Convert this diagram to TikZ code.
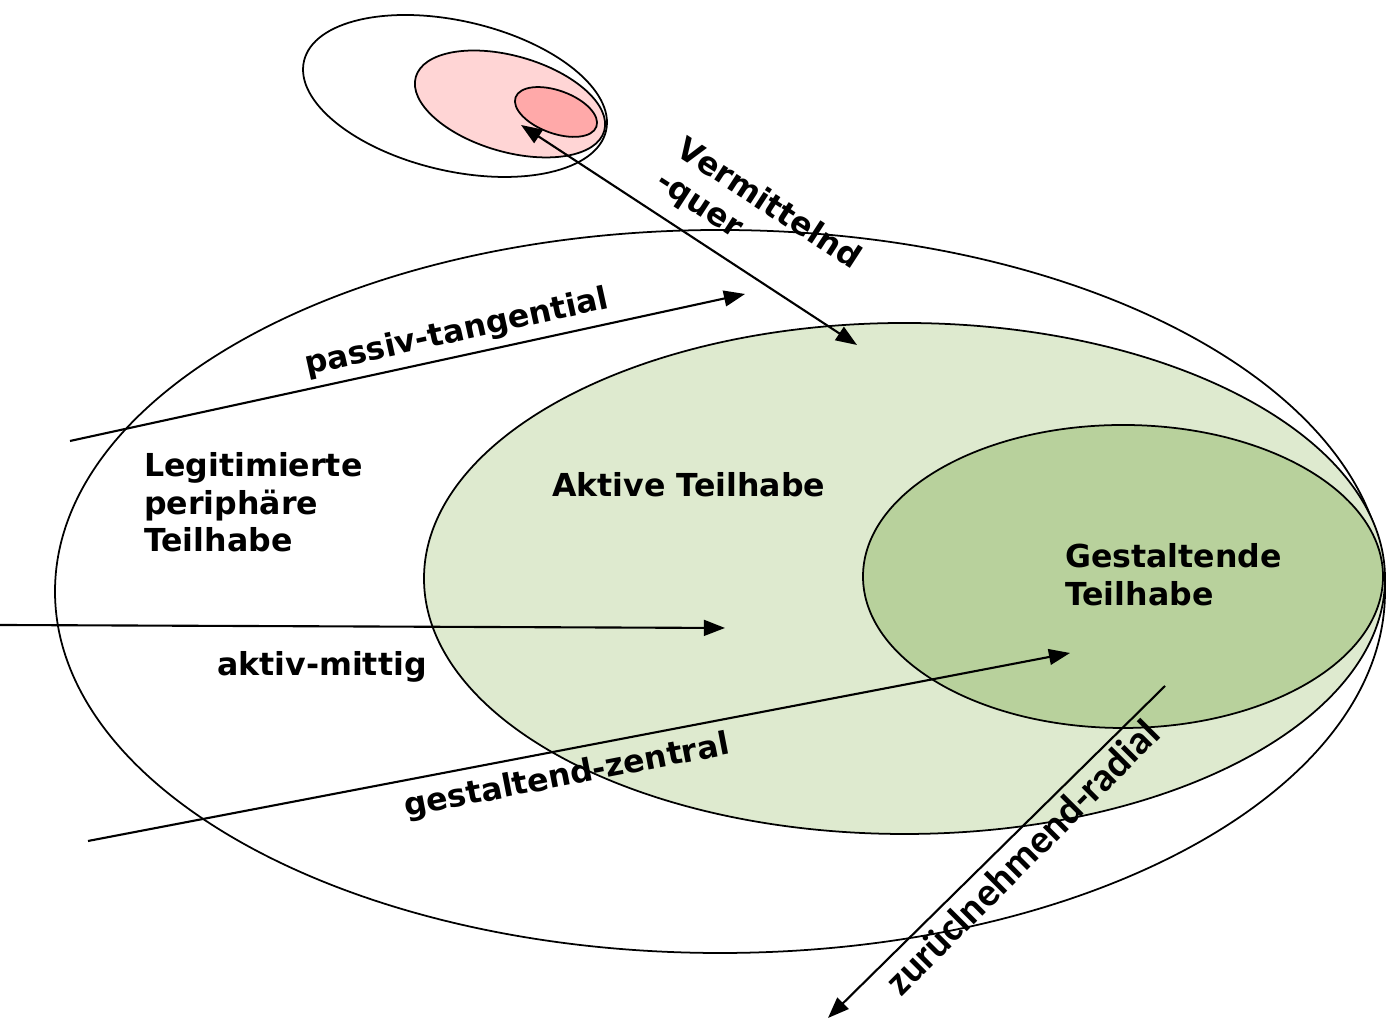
\documentclass[tikz,border=0pt]{standalone}
\usepackage{fontspec}
\setmainfont{DejaVu Sans}
\newfontfamily\radialfont{Carlito}
\usepackage{tikz}
\usetikzlibrary{arrows.meta}

\definecolor{lightgreen}{HTML}{DEEACF}
\definecolor{darkgreen}{HTML}{B8D19C}
\definecolor{lightpink}{HTML}{FFD5D5}
\definecolor{darkpink}{HTML}{FFA9A9}

\tikzset{
  label/.style={font=\fontsize{9}{10.8}\selectfont\bfseries, inner sep=0pt},
  zone/.style={draw=black, line width=0.5pt}
}

\begin{document}
\begin{tikzpicture}[>={Triangle[length=6pt,width=4.5pt]}, semithick]
    \useasboundingbox (0, 0) rectangle (13.86, 10.23);

    % Large ellipses
    \draw[zone, fill=white] (7.20, 4.315) ellipse [x radius=6.65, y radius=3.615];
    \draw[zone, fill=lightgreen] (9.045, 4.445) ellipse [x radius=4.805, y radius=2.555];
    \draw[zone, fill=darkgreen] (11.23, 4.465) ellipse [x radius=2.60, y radius=1.515];

    % Small ellipses at the top
    \draw[zone] (4.55, 9.27) ellipse [x radius=1.55, y radius=0.75, rotate=-13];
    \draw[zone, fill=lightpink] (5.10, 9.19) ellipse [x radius=0.98, y radius=0.48, rotate=-16];
    \draw[zone, fill=darkpink] (5.56, 9.11) ellipse [x radius=0.43, y radius=0.214, rotate=-20];

    % Arrow end points
    \coordinate (pStart) at (0.70, 5.82);
    \coordinate (pEnd) at (7.45, 7.29);
    \coordinate (aStart) at (0.00, 3.98);
    \coordinate (aEnd) at (7.25, 3.95);
    \coordinate (gStart) at (0.88, 1.82);
    \coordinate (gEnd) at (10.70, 3.70);
    \coordinate (vTop) at (5.21, 8.98);
    \coordinate (vBottom) at (8.57, 6.78);
    \coordinate (zStart) at (11.65, 3.37);
    \coordinate (zEnd) at (8.28, 0.05);

    % Arrows
    \draw[->] (pStart) -- (pEnd);
    \draw[->] (aStart) -- (aEnd);
    \draw[->] (gStart) -- (gEnd);
    \draw[<->] (vTop) -- (vBottom);
    \draw[->] (zStart) -- (zEnd);

    % Zone labels
    \node[label, anchor=north west, align=left] (lpp) at (1.43, 5.72) {Legitimierte\\periphäre\\Teilhabe};
    \node[label, anchor=base west] (aktiv) at (5.51, 5.26) {Aktive Teilhabe};
    \node[label, anchor=north west, align=left] (gestaltend) at (10.64, 4.81) {Gestaltende\\Teilhabe};

    % Arrow labels
    \node[label, rotate=12.5] (passivLbl) at (4.57, 6.90) {passiv-tangential};
    \node[label, anchor=base west] (mittigLbl) at (2.16, 3.47) {aktiv-mittig};
    \node[label, rotate=11] (zentralLbl) at (5.67, 2.46) {gestaltend-zentral};
    \node[label, rotate=-33, align=left] (querLbl) at (7.58, 8.02) {Vermittelnd\\-quer};
    \node[label, rotate=45, font=\radialfont\fontsize{11.5}{13}\selectfont\bfseries] (radialLbl) at (10.22, 1.66) {zurüclnehmend-radial};
\end{tikzpicture}
\end{document}
